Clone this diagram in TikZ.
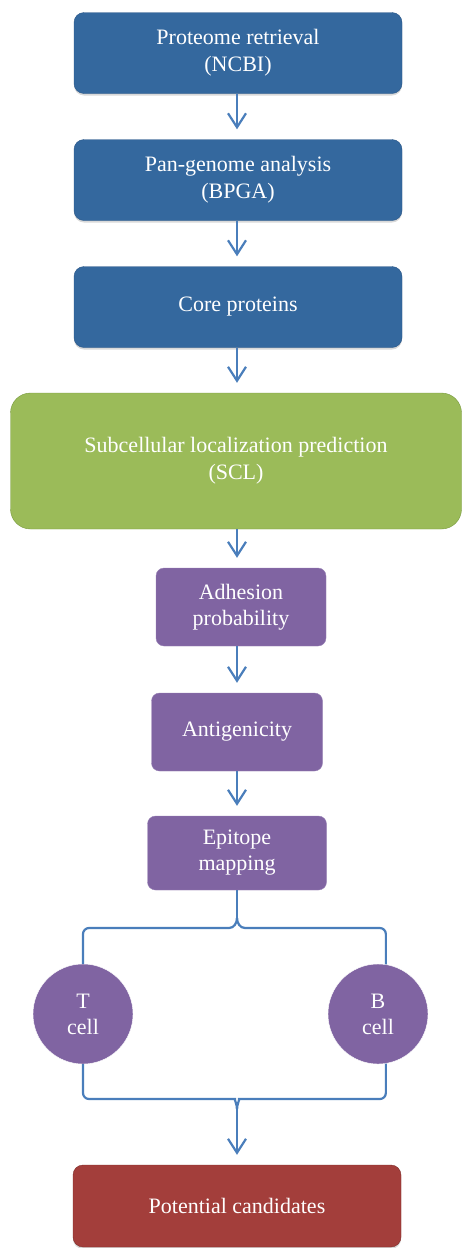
\documentclass[tikz,border=0pt]{standalone}
\usepackage{fontspec}
\setmainfont{Liberation Serif}
\usetikzlibrary{arrows.meta,shadows}

\definecolor{stepblue}{HTML}{34689E}
\definecolor{stepblueline}{HTML}{2B5788}
\definecolor{sclgreen}{HTML}{9BBB59}
\definecolor{sclgreenline}{HTML}{789A3E}
\definecolor{filterpurple}{HTML}{8064A2}
\definecolor{resultred}{HTML}{A33E3B}
\definecolor{resultredline}{HTML}{7E2D2A}
\definecolor{linkblue}{HTML}{4A7EBB}

\tikzset{
	block/.style={rectangle, text=white, align=center, inner sep=0pt,
		font=\fontsize{22}{27}\selectfont},
	blueblock/.style={block, rounded corners=10pt, fill=stepblue, draw=stepblueline,
		minimum width=328pt, minimum height=81pt,
		drop shadow={shadow xshift=0pt, shadow yshift=-2pt, opacity=.3}},
	greenblock/.style={block, rounded corners=20pt, fill=sclgreen, draw=sclgreenline,
		minimum width=451pt, minimum height=136pt},
	purpleblock/.style={block, rounded corners=8pt, fill=filterpurple, draw=filterpurple!80!white,
		font=\fontsize{22}{26}\selectfont},
	cellnode/.style={block, circle, fill=filterpurple, draw=white, minimum size=100pt,
		font=\fontsize{22}{26}\selectfont},
	redblock/.style={blueblock, fill=resultred, draw=resultredline},
	link/.style={draw=linkblue, line width=2.2pt},
	arrowlink/.style={link, -{Straight Barb[length=14pt,width=18pt,line width=2.2pt]}, shorten >=10pt},
}

\begin{document}
\begin{tikzpicture}[x=1pt,y=-1pt]
	\useasboundingbox (0,0) rectangle (462,1248);

	\node[blueblock] (retr) at (238,53) {Proteome retrieval\\(NCBI)};
	\node[blueblock] (pan) at (238,180) {Pan-genome analysis\\(BPGA)};
	\node[blueblock] (core) at (238,307) {Core proteins};
	\node[greenblock] (scl) at (236,461) {Subcellular localization prediction\\(SCL)};
	\node[purpleblock, minimum width=170pt, minimum height=78pt] (adh) at (241,607) {Adhesion\\probability};
	\node[purpleblock, minimum width=171pt, minimum height=78pt] (anti) at (237,732) {Antigenicity};
	\node[purpleblock, minimum width=179pt, minimum height=74pt] (epi) at (237,853) {Epitope\\mapping};
	\node[cellnode] (tcell) at (83,1014) {T\\cell};
	\node[cellnode] (bcell) at (378,1014) {B\\cell};
	\node[redblock, minimum height=82pt] (cand) at (237,1206) {Potential candidates};

	% straight chain of steps
	\foreach \a/\b in {retr/pan, pan/core, core/scl, scl/adh, adh/anti, anti/epi}
		\draw[arrowlink] (\a.south -| epi) -- (\b.north -| epi);

	% split to T and B cells, then join again
	\coordinate (fork) at (237,918);
	\coordinate (merge) at (237,1109);
	\draw[link] (epi.south) -- (fork);
	\draw[link] (fork) to[out=-90,in=0] (229,928) [rounded corners=6pt] -| (tcell.north);
	\draw[link] (fork) to[out=-90,in=180] (245,928) [rounded corners=6pt] -| (bcell.81);
	\draw[link, rounded corners=6pt] (tcell.south) |- (229,1099) to[out=0,in=90] (merge);
	\draw[link, rounded corners=6pt] (bcell.-81) |- (245,1099) to[out=180,in=90] (merge);
	\draw[arrowlink] (merge) -- (cand.north);
\end{tikzpicture}
\end{document}
